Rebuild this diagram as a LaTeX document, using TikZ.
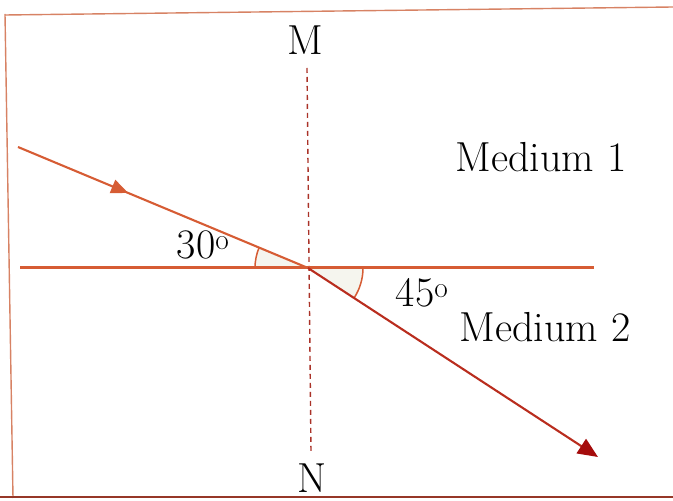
\documentclass[tikz,border=0pt]{standalone}
\usetikzlibrary{arrows.meta,decorations.markings}
\definecolor{raycol}{RGB}{214,92,52}
\definecolor{refcol}{RGB}{185,45,30}
\definecolor{tipcol}{RGB}{165,12,12}
\definecolor{framecol}{RGB}{215,130,100}
\definecolor{framedark}{RGB}{150,55,40}
\definecolor{normcol}{RGB}{170,50,40}
\definecolor{arcfill}{RGB}{245,245,238}
\begin{document}
\begin{tikzpicture}[x=1pt,y=1pt,
  lbl/.style={font=\fontsize{42}{46}\selectfont, inner sep=0pt},
  rayline/.style={draw=raycol, line width=2.1pt},
  arcline/.style={draw=raycol, line width=1.5pt}]
\useasboundingbox (0,0) rectangle (673,501);
% frame
\draw[framecol, line width=1.4pt] (5,486) -- (673,494);
\draw[framecol, line width=1.4pt] (5,487) -- (13,3);
\draw[framedark, line width=1.8pt] (0,4) -- (673,4);
% points
\coordinate (O) at (308,233);
\coordinate (S) at (18,354);
\coordinate (E) at (598,44);
\coordinate (HL) at (20,233);
\coordinate (HR) at (594,233);
\coordinate (NT) at (307,433);
\coordinate (NB) at (311,49);
% angle arcs
\fill[arcfill] (O) -- ++(180:53) arc[start angle=180, end angle=157.35, radius=53] -- cycle;
\draw[arcline] (O) ++(180:53) arc[start angle=180, end angle=157.35, radius=53];
\fill[arcfill] (O) -- ++(0:55) arc[start angle=0, end angle=-33.1, radius=55] -- cycle;
\draw[arcline] (O) ++(0:55) arc[start angle=0, end angle=-33.1, radius=55];
% normal
\draw[normcol, line width=1.4pt, dash pattern=on 5pt off 4pt] (NT) -- (NB);
% interface
\draw[rayline, line width=3pt] (HL) -- (HR);
% incident ray
\draw[rayline, postaction={decorate}, decoration={markings,
  mark=at position 0.38 with {\arrow[raycol]{Triangle[length=17pt,width=14pt]}}}] (S) -- (O);
% refracted ray
\draw[draw=refcol, line width=2.1pt, -{Triangle[length=20pt,width=17pt,color=tipcol]}] (O) -- (E);
% labels
\node[lbl] (m) at (305,461) {M};
\node[lbl] (n) at (312,23) {N};
\node[lbl] (med1) at (541,344) {Medium 1};
\node[lbl] (med2) at (545,174) {Medium 2};
\node[lbl] (a30) at (203,256) {30\textsuperscript{o}};
\node[lbl] (a45) at (422,208) {45\textsuperscript{o}};
\end{tikzpicture}
\end{document}
